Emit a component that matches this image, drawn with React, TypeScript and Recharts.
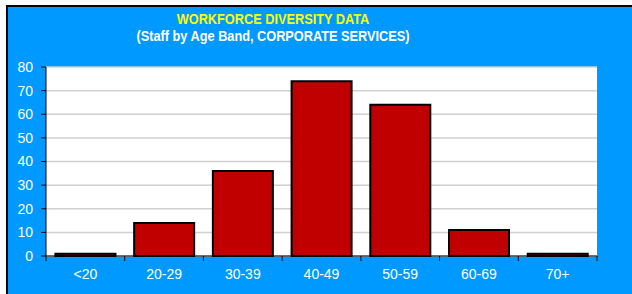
import { Bar, BarChart, CartesianGrid, XAxis, YAxis } from "recharts";

const ageBands = ["<20", "20-29", "30-39", "40-49", "50-59", "60-69", "70+"];
const staffCounts = [1, 14, 36, 74, 64, 11, 1];
const yTicks = [0, 10, 20, 30, 40, 50, 60, 70, 80];

const data = ageBands.map((band, i) => ({ band, staff: staffCounts[i] }));

const FONT = "Arial, 'Liberation Sans', sans-serif";
const BLUE = "#0099ff";

// Excel style: tick marks sit between categories, label in the middle
function BandTick(props: any) {
  const { x, y, payload, index, visibleTicksCount } = props;
  const half = payload?.offset ?? 551 / 7 / 2;
  const top = y - 8;
  return (
    <g>
      <line x1={x - half} x2={x - half} y1={top} y2={top + 5} stroke="#000" />
      {index === visibleTicksCount - 1 && (
        <line x1={x + half} x2={x + half} y1={top} y2={top + 5} stroke="#000" />
      )}
      <text
        x={x}
        y={top + 23}
        textAnchor="middle"
        fill="#fff"
        fontSize={14}
        fontFamily={FONT}
      >
        {payload.value}
      </text>
    </g>
  );
}

export default function App() {
  return (
    <div
      style={{
        position: "absolute",
        left: 0,
        top: 0,
        width: 632,
        height: 294,
        background: "#fff",
        overflow: "hidden",
      }}
    >
      <div
        style={{
          position: "absolute",
          left: 6,
          top: 5,
          width: 640,
          height: 300,
          background: BLUE,
          borderTop: "2px solid #000",
          borderLeft: "2px solid #000",
        }}
      />
      <div
        style={{
          position: "absolute",
          left: 0,
          top: 0,
          width: 546,
          textAlign: "center",
          fontFamily: FONT,
          fontWeight: "bold",
          fontSize: 14,
          transform: "scaleX(0.91)",
          transformOrigin: "273px 0",
        }}
      >
        <div style={{ position: "absolute", top: 11, width: "100%", color: "#ffff00" }}>
          WORKFORCE DIVERSITY DATA
        </div>
        <div style={{ position: "absolute", top: 28, width: "100%", color: "#fff" }}>
          (Staff by Age Band, CORPORATE SERVICES)
        </div>
      </div>
      <div style={{ position: "absolute", left: 0, top: 0 }}>
        <BarChart
          width={632}
          height={294}
          data={data}
          margin={{ top: 67, right: 35, bottom: 0, left: 0 }}
          barCategoryGap="12%"
        >
          <CartesianGrid
            horizontal
            vertical={false}
            fill="#fff"
            stroke="#d0d0d0"
            strokeWidth={1.5}
          />
          <XAxis
            dataKey="band"
            tickLine={false}
            axisLine={{ stroke: "#000" }}
            tick={<BandTick />}
            interval={0}
            height={38}
          />
          <YAxis
            width={46}
            domain={[0, 80]}
            ticks={yTicks}
            interval={0}
            tickSize={5}
            tickMargin={8}
            tickLine={{ stroke: "#000" }}
            axisLine={{ stroke: "#000" }}
            tick={{ fill: "#fff", fontSize: 14, fontFamily: FONT }}
          />
          <Bar
            dataKey="staff"
            fill="#c00000"
            stroke="#000"
            strokeWidth={2}
            isAnimationActive={false}
          />
        </BarChart>
      </div>
    </div>
  );
}
